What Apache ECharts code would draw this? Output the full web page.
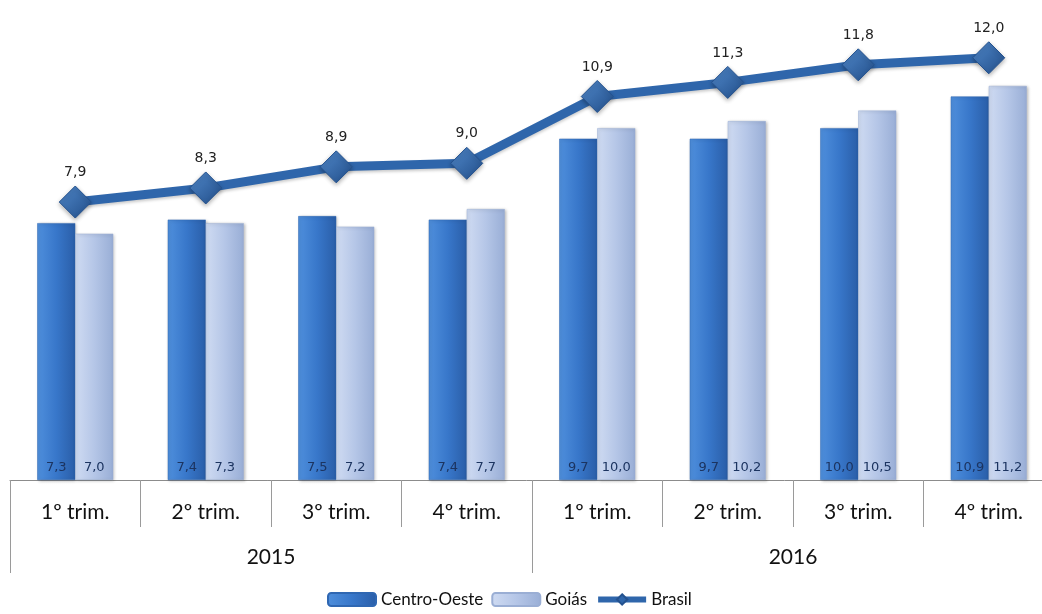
<!DOCTYPE html>
<html>
<head>
<meta charset="utf-8">
<title>Taxa de desocupação</title>
<script src="https://cdn.jsdelivr.net/npm/echarts@6/dist/echarts.min.js"></script>
<style>
  html, body { margin: 0; padding: 0; background: #fff; }
  #chart { width: 1042px; height: 614px; }
</style>
</head>
<body>
<div id="chart"></div>
<script>
// Quarterly categories and the year groups they belong to
const quarters = ['1º trim.', '2º trim.', '3º trim.', '4º trim.', '1º trim.', '2º trim.', '3º trim.', '4º trim.'];
const years = ['2015', '2016'];

// Series values (%)
const centroOeste = [7.3, 7.4, 7.5, 7.4, 9.7, 9.7, 10.0, 10.9];
const goias = [7.0, 7.3, 7.2, 7.7, 10.0, 10.2, 10.5, 11.2];
const brasil = [7.9, 8.3, 8.9, 9.0, 10.9, 11.3, 11.8, 12.0];

const comma = v => v.toFixed(1).replace('.', ',');
const labelFont = '"Lato", "Liberation Sans", sans-serif';
const valueFont = '"DejaVu Sans", "Liberation Sans", sans-serif';

const grad = (a, b, c) => new echarts.graphic.LinearGradient(0, 0, 1, 0, [
  { offset: 0, color: a }, { offset: 0.5, color: b }, { offset: 1, color: c }
]);

const chart = echarts.init(document.getElementById('chart'), null, { renderer: 'canvas' });

chart.setOption({
  animation: false,
  backgroundColor: '#ffffff',
  // plot area runs slightly past the right edge of the canvas
  grid: { left: 10, width: 1044, top: 5, bottom: 134, containLabel: false, outerBoundsMode: 'none' },
  legend: {
    left: 322,
    bottom: 1,
    itemWidth: 48,
    itemHeight: 13,
    itemGap: 8,
    textStyle: { fontFamily: labelFont, fontSize: 17, color: '#111' },
    data: [
      'Centro-Oeste',
      'Goiás',
      { name: 'Brasil', itemStyle: { color: '#2f66ab' }, lineStyle: { width: 6, color: '#2f66ab' } }
    ]
  },
  xAxis: [
    {
      type: 'category',
      data: quarters,
      position: 'bottom',
      axisLine: { show: true, lineStyle: { color: '#8c8c8c', width: 1 } },
      axisTick: { show: true, length: 47, lineStyle: { color: '#9a9a9a' } },
      axisLabel: { margin: 22, fontFamily: labelFont, fontSize: 21, color: '#111' }
    },
    {
      type: 'category',
      data: years,
      position: 'bottom',
      axisLine: { show: false },
      axisTick: { show: true, length: 93, lineStyle: { color: '#9a9a9a' } },
      axisLabel: { margin: 67, fontFamily: labelFont, fontSize: 21, color: '#111' }
    }
  ],
  yAxis: {
    type: 'value',
    min: 0,
    max: 13.5,
    show: false,
    splitLine: { show: false }
  },
  series: [
    {
      name: 'Centro-Oeste',
      type: 'bar',
      data: centroOeste,
      barWidth: 38,
      barGap: '0%',
      itemStyle: {
        color: grad('#4f8fdc', '#3877ca', '#2a5ea8'),
        borderColor: '#2f67b2',
        borderWidth: 0.5,
        shadowColor: 'rgba(0,0,0,0.25)',
        shadowBlur: 3,
        shadowOffsetX: 1,
        shadowOffsetY: 1
      },
      label: {
        show: true,
        position: 'insideBottom',
        distance: 6,
        formatter: p => comma(p.value),
        fontFamily: valueFont,
        fontSize: 13,
        color: '#1c3460'
      }
    },
    {
      name: 'Goiás',
      type: 'bar',
      data: goias,
      barWidth: 38,
      barGap: '0%',
      itemStyle: {
        color: grad('#cfdbf2', '#b5c6e7', '#99aed6'),
        borderColor: '#9aaed4',
        borderWidth: 0.5,
        shadowColor: 'rgba(0,0,0,0.25)',
        shadowBlur: 3,
        shadowOffsetX: 1,
        shadowOffsetY: 1
      },
      label: {
        show: true,
        position: 'insideBottom',
        distance: 6,
        formatter: p => comma(p.value),
        fontFamily: valueFont,
        fontSize: 13,
        color: '#1c3460'
      }
    },
    {
      name: 'Brasil',
      type: 'line',
      data: brasil,
      symbol: 'diamond',
      symbolSize: 32,
      z: 5,
      lineStyle: {
        color: '#2f66ab',
        width: 9,
        shadowColor: 'rgba(0,0,0,0.2)',
        shadowBlur: 3,
        shadowOffsetY: 2
      },
      itemStyle: {
        color: new echarts.graphic.LinearGradient(0, 0, 1, 1, [
          { offset: 0, color: '#5189cb' },
          { offset: 1, color: '#214d88' }
        ]),
        borderColor: '#24528f',
        borderWidth: 1,
        shadowColor: 'rgba(0,0,0,0.3)',
        shadowBlur: 4,
        shadowOffsetY: 2
      },
      label: {
        show: true,
        position: 'top',
        distance: 6,
        formatter: p => comma(p.value),
        fontFamily: valueFont,
        fontSize: 14,
        color: '#222'
      }
    }
  ]
});
</script>
</body>
</html>
